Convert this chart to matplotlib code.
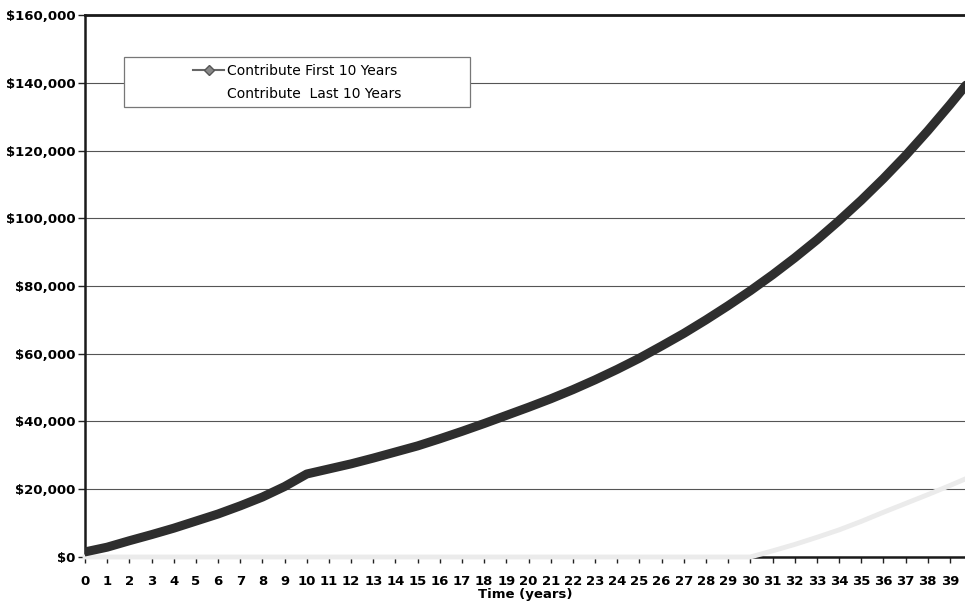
import matplotlib
matplotlib.use("Agg")
import matplotlib.pyplot as plt
from matplotlib.lines import Line2D
from matplotlib.patches import Rectangle
from matplotlib.ticker import FuncFormatter

# the scan is cropped on the right, year 40 sits just past the edge
years = list(range(41))
first_10 = [1500, 2900, 4800, 6600, 8500, 10600, 12700, 15100, 17700, 20800,
            24500, 26000, 27500, 29200, 31000, 32800, 34900, 37100, 39400, 41800,
            44200, 46700, 49400, 52300, 55400, 58700, 62300, 66000, 70000, 74200,
            78600, 83300, 88300, 93600, 99300, 105300, 111700, 118500, 125800, 133500,
            141500]
last_10 = [0] * 31 + [1800, 3700, 5800, 8000, 10500, 13200, 15800, 18400, 21100, 23900]
tick_years = list(range(40))
labels = ["Contribute First 10 Years", "Contribute  Last 10 Years"]

fig = plt.figure(figsize=(9.65, 6.03), dpi=100)
ax = fig.add_axes([0.0881, 0.0763, 0.9119, 0.8988])

ax.plot(years, first_10, color="#2e2e2e", lw=6.5, solid_capstyle="round", zorder=4)
ax.plot(years, last_10, color="#ebebeb", lw=3.5, zorder=3, clip_on=False)

ax.set_xlim(0, 39.68)
ax.set_ylim(0, 160000)
ax.set_xticks(tick_years)
ax.set_yticks(range(0, 160001, 20000))
ax.yaxis.set_major_formatter(FuncFormatter(lambda v, p: f"${v:,.0f}"))
ax.grid(axis="y", color="#555555", lw=0.8, zorder=1)

for lab in ax.get_xticklabels() + ax.get_yticklabels():
    lab.set_fontweight("bold")
ax.tick_params(axis="y", labelsize=9.5, length=5, width=1, pad=2, color="#222222")
ax.tick_params(axis="x", labelsize=9.5, length=4, width=1, pad=9, color="#222222")
ax.set_xlabel("Time (years)", fontsize=9.5, fontweight="bold", labelpad=0)

ax.spines["right"].set_visible(False)
ax.spines["top"].set_linewidth(2)
ax.spines["left"].set_linewidth(1.8)
ax.spines["bottom"].set_linewidth(1.8)
for s in ax.spines.values():
    s.set_color("#1a1a1a")

# legend with a wide frame drawn separately
ax.add_patch(Rectangle((0.0443, 0.830), 0.393, 0.0925, transform=ax.transAxes,
                       facecolor="white", edgecolor="#777777", lw=0.9, zorder=5))
handles = [Line2D([], [], color="#666666", lw=1.5, marker="D", ms=5,
                  markerfacecolor="#888888", markeredgecolor="#555555"),
           Line2D([], [], color="white", lw=1.5)]
leg = ax.legend(handles, labels, loc="center", bbox_to_anchor=(0.241, 0.876),
                frameon=False, fontsize=10, handlelength=2.2, handletextpad=0.2,
                labelspacing=0.65, borderpad=0.2)
leg.set_zorder(6)

fig.savefig("out.png", dpi=100)
